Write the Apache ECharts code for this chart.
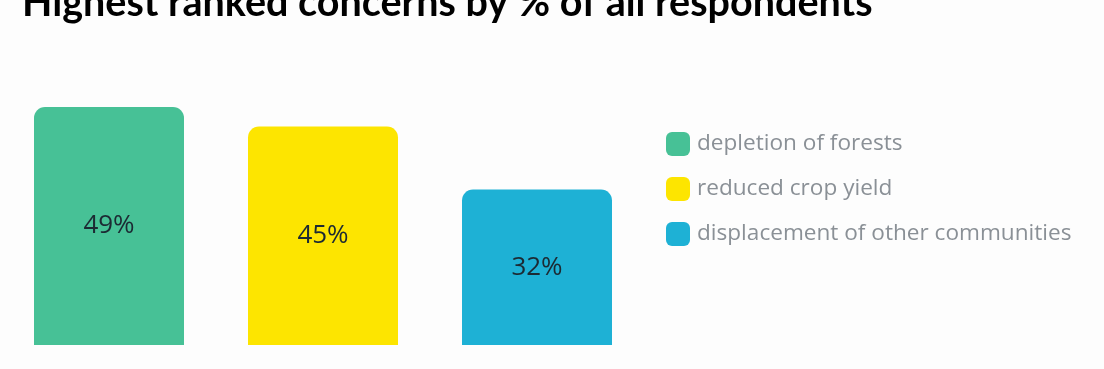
<!DOCTYPE html>
<html><head><meta charset="utf-8">
<script src="https://cdn.jsdelivr.net/npm/echarts@6/dist/echarts.min.js"></script>
<style>html,body{margin:0;padding:0;background:#fdfdfd}#c{width:1104px;height:369px}</style>
</head><body><div id="c"></div>
<script>
const categories = ['depletion of forests', 'reduced crop yield', 'displacement of other communities'];
const values = [49, 45, 32];
const colors = ['#47c196', '#fde500', '#1eb1d5'];

const chart = echarts.init(document.getElementById('c'));
const series = categories.map((name, i) => ({
  name: name,
  type: 'bar',
  stack: 'all',
  barWidth: 150,
  data: categories.map((_, j) => j === i ? values[i] : '-'),
  itemStyle: { color: colors[i], borderRadius: [11, 11, 0, 0] },
  label: {
    show: true, position: 'inside', formatter: '{c}%',
    fontFamily: 'Open Sans', fontSize: 26, color: '#1c2a33'
  }
}));
chart.setOption({
  backgroundColor: '#fdfdfd',
  animation: false,
  title: {
    text: 'Highest ranked concerns by % of all respondents',
    left: 17, top: -22,
    textStyle: { fontFamily: 'Lato', fontWeight: 'bold', fontSize: 39.5, color: '#000' }
  },
  legend: {
    orient: 'vertical', left: 661, top: 127,
    itemWidth: 24, itemHeight: 24, itemGap: 21,
    icon: 'roundRect',
    data: categories,
    textStyle: { fontFamily: 'Open Sans', fontSize: 22.6, color: '#8a9096', padding: [0, 0, 0, 2] }
  },
  grid: { left: 2, width: 642, bottom: 24, top: 53.6 },
  xAxis: { type: 'category', data: categories, show: false },
  yAxis: { type: 'value', min: 0, max: 60, show: false },
  series: series
});
</script></body></html>
